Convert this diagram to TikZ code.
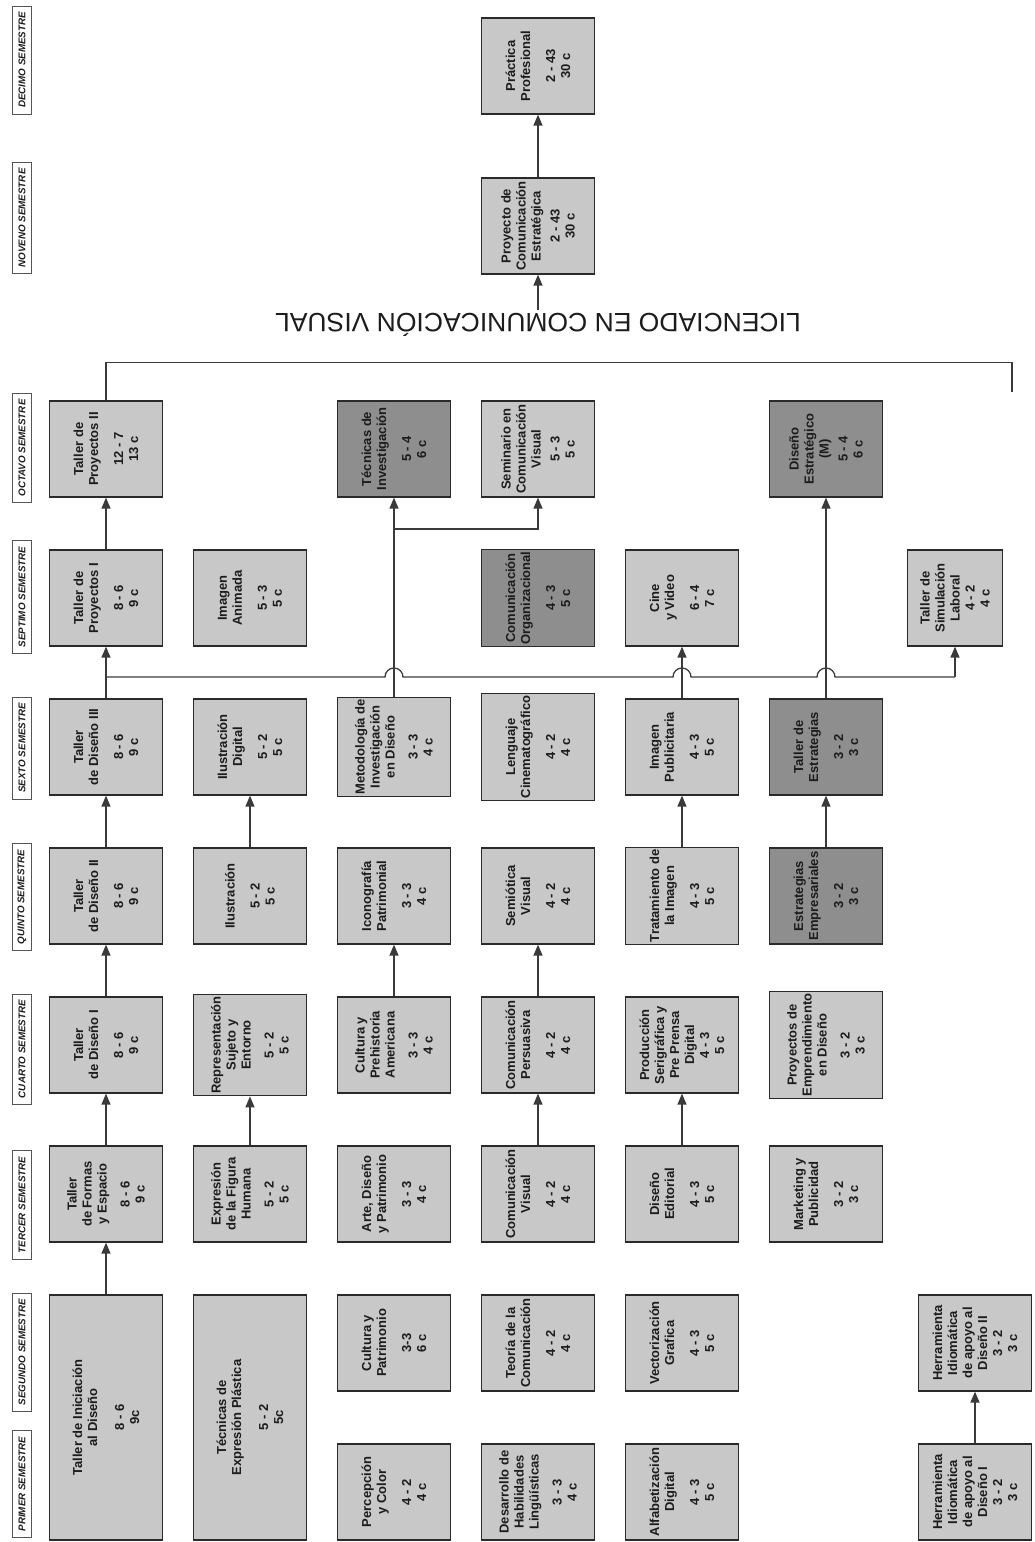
\documentclass[tikz,border=0pt]{standalone}
\usepackage{fontspec}
\setmainfont{Liberation Sans}
\usepackage{tikz}
\usetikzlibrary{arrows.meta}
\definecolor{mallaRamo}{HTML}{C8C8C8}
\definecolor{mallaRamoOscuro}{HTML}{8E8E8E}
\definecolor{mallaBorde}{HTML}{2A2A2A}
\definecolor{mallaLinea}{HTML}{3A3A3A}
\definecolor{mallaTexto}{HTML}{1C1C1C}
\definecolor{mallaEtiqueta}{HTML}{555555}

\begin{document}
\begin{tikzpicture}[
  x=1pt, y=1pt,
  ramo/.style={draw=mallaBorde, line width=1.3pt, fill=mallaRamo, text=mallaTexto,
    minimum width=96pt, minimum height=113pt, inner sep=2pt, align=center,
    font=\fontsize{13}{15}\selectfont\bfseries},
  ramoOscuro/.style={ramo, fill=mallaRamoOscuro},
  ramoDoble/.style={ramo, minimum width=245pt},
  semestre/.style={draw=mallaEtiqueta, line width=0.6pt, inner xsep=6pt, inner ysep=2pt,
    minimum height=19pt, text=mallaTexto, font=\fontsize{9.8}{10}\selectfont\bfseries\itshape},
  flecha/.style={draw=mallaLinea, line width=1.3pt, -{Triangle[width=9pt,length=11pt]}},
  linea/.style={draw=mallaLinea, line width=1.3pt},
]
\begin{scope}[rotate=90, transform shape]
  \useasboundingbox (0,0) rectangle (1542,1034);

  % Etiquetas de semestre
  \foreach \nombre/\X in {PRIMER/58, SEGUNDO/190, TERCER/337, CUARTO/493, QUINTO/645,
      SEXTO/794, SEPTIMO/945, OCTAVO/1094, NOVENO/1324, DECIMO/1482}
    \node[semestre] (sem\nombre) at (\X,1012) {\nombre\ SEMESTRE};

  % Primer y segundo semestre
  \node[ramoDoble] (iniciacion) at (124.5,928) {Taller de Iniciación\\al Diseño\\[12pt]8 - 6\\9c};
  \node[ramoDoble] (tecnicas) at (124.5,784) {Técnicas de\\Expresión Plástica\\[12pt]5 - 2\\5c};
  \node[ramo] (percepcion) at (50,640) {Percepción\\y Color\\[10pt]4 - 2\\4 c};
  \node[ramo] (desarrollo) at (50,496) {Desarrollo de\\Habilidades\\Lingüísticas\\[8pt]3 - 3\\4 c};
  \node[ramo] (alfabetizacion) at (50,352) {Alfabetización\\Digital\\[10pt]4 - 3\\5 c};
  \node[ramo] (herramientaI) at (50,59) {Herramienta\\Idiomática\\de apoyo al\\Diseño I\\3 - 2\\3 c};
  \node[ramo] (culturaPat) at (199,640) {Cultura y\\Patrimonio\\[10pt]3-3\\6 c};
  \node[ramo] (teoria) at (199,496) {Teoría de la\\Comunicación\\[10pt]4 - 2\\4 c};
  \node[ramo] (vectorizacion) at (199,352) {Vectorización\\Grafica\\[10pt]4 - 3\\5 c};
  \node[ramo] (herramientaII) at (199,59) {Herramienta\\Idiomática\\de apoyo al\\Diseño II\\3 - 2\\3 c};

  % Tercer semestre
  \node[ramo] (formas) at (348,928) {Taller\\de Formas\\y Espacio\\[8pt]8 - 6\\9 c};
  \node[ramo] (figura) at (348,784) {Expresión\\de la Figura\\Humana\\[8pt]5 - 2\\5 c};
  \node[ramo] (arte) at (348,640) {Arte, Diseño\\y Patrimonio\\[10pt]3 - 3\\4 c};
  \node[ramo] (comVisual) at (348,496) {Comunicación\\Visual\\[10pt]4 - 2\\4 c};
  \node[ramo] (editorial) at (348,352) {Diseño\\Editorial\\[10pt]4 - 3\\5 c};
  \node[ramo] (marketing) at (348,208) {Marketing y\\Publicidad\\[10pt]3 - 2\\3 c};

  % Cuarto semestre
  \node[ramo] (disenoI) at (497,928) {Taller\\de Diseño I\\[10pt]8 - 6\\9 c};
  \node[ramo] (representacion) at (497,784) {Representación\\Sujeto y\\Entorno\\[8pt]5 - 2\\5 c};
  \node[ramo] (prehistoria) at (497,640) {Cultura y\\Prehistoria\\Americana\\[8pt]3 - 3\\4 c};
  \node[ramo] (persuasiva) at (497,496) {Comunicación\\Persuasiva\\[10pt]4 - 2\\4 c};
  \node[ramo] (produccion) at (497,352) {Producción\\Serigráfica y\\Pre Prensa\\Digital\\4 - 3\\5 c};
  \node[ramo] (emprendimiento) at (497,208) {Proyectos de\\Emprendimiento\\en Diseño\\[8pt]3 - 2\\3 c};

  % Quinto semestre
  \node[ramo] (disenoII) at (646,928) {Taller\\de Diseño II\\[10pt]8 - 6\\9 c};
  \node[ramo] (ilustracion) at (646,784) {Ilustración\\[10pt]5 - 2\\5 c};
  \node[ramo] (iconografia) at (646,640) {Iconografía\\Patrimonial\\[10pt]3 - 3\\4 c};
  \node[ramo] (semiotica) at (646,496) {Semiótica\\Visual\\[10pt]4 - 2\\4 c};
  \node[ramo] (tratamiento) at (646,352) {Tratamiento de\\la Imagen\\[10pt]4 - 3\\5 c};
  \node[ramoOscuro] (empresariales) at (646,208) {Estrategias\\Empresariales\\[10pt]3 - 2\\3 c};

  % Sexto semestre
  \node[ramo] (disenoIII) at (795,928) {Taller\\de Diseño III\\[10pt]8 - 6\\9 c};
  \node[ramo] (ilusDigital) at (795,784) {Ilustración\\Digital\\[10pt]5 - 2\\5 c};
  \node[ramo] (metodologia) at (795,640) {Metodología de\\Investigación\\en Diseño\\[8pt]3 - 3\\4 c};
  \node[ramo] (lenguaje) at (795,496) {Lenguaje\\Cinematográfico\\[10pt]4 - 2\\4 c};
  \node[ramo] (publicitaria) at (795,352) {Imagen\\Publicitaria\\[10pt]4 - 3\\5 c};
  \node[ramoOscuro] (tallerEst) at (795,208) {Taller de\\Estrategias\\[10pt]3 - 2\\3 c};

  % Septimo semestre
  \node[ramo] (proyectosI) at (944,928) {Taller de\\Proyectos I\\[10pt]8 - 6\\9 c};
  \node[ramo] (animada) at (944,784) {Imagen\\Animada\\[10pt]5 - 3\\5 c};
  \node[ramoOscuro] (organizacional) at (944,496) {Comunicación\\Organizacional\\[10pt]4 - 3\\5 c};
  \node[ramo] (cine) at (944,352) {Cine\\y Video\\[10pt]6 - 4\\7 c};
  \node[ramo, minimum height=95pt] (simulacion) at (944,79) {Taller de\\Simulación\\Laboral\\4 - 2\\4 c};

  % Octavo semestre
  \node[ramo] (proyectosII) at (1093,928) {Taller de\\Proyectos II\\[10pt]12 - 7\\13 c};
  \node[ramoOscuro] (tecInvest) at (1093,640) {Técnicas de\\Investigación\\[10pt]5 - 4\\6 c};
  \node[ramo] (seminario) at (1093,496) {Seminario en\\Comunicación\\Visual\\[4pt]5 - 3\\5 c};
  \node[ramoOscuro] (disEstrategico) at (1093,208) {Diseño\\Estratégico\\(M)\\[4pt]5 - 4\\6 c};

  % Noveno y decimo semestre
  \node[ramo] (proyectoCE) at (1316,496) {Proyecto de\\Comunicación\\Estratégica\\[4pt]2 - 43\\30 c};
  \node[ramo] (practica) at (1476,496) {Práctica\\Profesional\\[10pt]2 - 43\\30 c};

  % Titulo
  \node[rotate=90, text=mallaTexto, font=\fontsize{26.5}{28}\selectfont] (licenciado)
    at (1217,496) {LICENCIADO EN COMUNICACIÓN VISUAL};

  % Prerrequisitos directos
  \draw[flecha] (iniciacion) -- (formas);
  \draw[flecha] (formas) -- (disenoI);
  \draw[flecha] (disenoI) -- (disenoII);
  \draw[flecha] (disenoII) -- (disenoIII);
  \draw[flecha] (disenoIII) -- (proyectosI);
  \draw[flecha] (proyectosI) -- (proyectosII);
  \draw[flecha] (figura) -- (representacion);
  \draw[flecha] (ilustracion) -- (ilusDigital);
  \draw[flecha] (prehistoria) -- (iconografia);
  \draw[flecha] (comVisual) -- (persuasiva);
  \draw[flecha] (persuasiva) -- (semiotica);
  \draw[flecha] (editorial) -- (produccion);
  \draw[flecha] (tratamiento) -- (publicitaria);
  \draw[flecha] (empresariales) -- (tallerEst);
  \draw[flecha] (herramientaI) -- (herramientaII);
  \draw[flecha] (publicitaria) -- (cine);
  \draw[flecha] (tallerEst) -- (disEstrategico);
  \draw[flecha] (metodologia) -- (tecInvest);
  \coordinate (ramal) at (1013,640);
  \draw[flecha] (ramal) |- (seminario);
  \draw[flecha] (proyectoCE) -- (practica);
  \draw[flecha] (licenciado) -- (proyectoCE);

  % Bus de Taller de Diseño III con saltos
  \coordinate (busIni) at (865,928);
  \coordinate (busFin) at (865,79);
  \draw[linea] (busIni) -- (865,649) arc[start angle=90, end angle=-90, radius=9]
    -- (865,361) arc[start angle=90, end angle=-90, radius=9]
    -- (865,217) arc[start angle=90, end angle=-90, radius=9] -- (busFin);
  \draw[flecha] (busFin) -- (simulacion);

  % Corchete del titulo
  \coordinate (licFin) at (1150,22);
  \draw[linea] (proyectosII.east) -- ++(38,0) |- (licFin);
\end{scope}
\end{tikzpicture}
\end{document}
